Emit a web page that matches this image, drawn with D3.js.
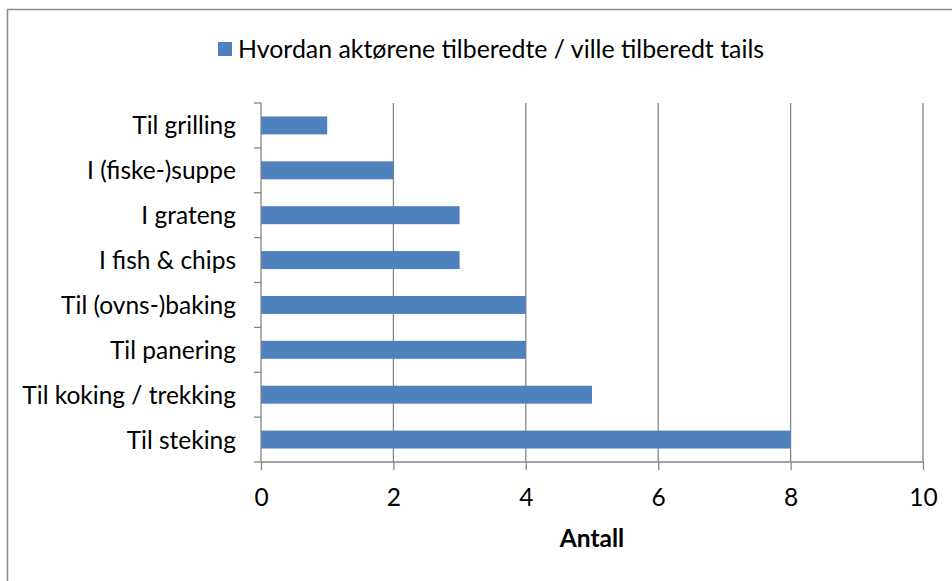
<!DOCTYPE html>
<html>
<head>
<meta charset="utf-8">
<script src="https://cdn.jsdelivr.net/npm/d3@7"></script>
<style>
  html, body { margin: 0; padding: 0; background: #fff; }
  svg { display: block; }
  text { font-family: "Lato", "Open Sans", sans-serif; fill: #000; }
</style>
</head>
<body>
<svg id="chart" width="952" height="581"></svg>
<script>
const categories = ["Til grilling", "I (fiske-)suppe", "I grateng", "I fish & chips",
  "Til (ovns-)baking", "Til panering", "Til koking / trekking", "Til steking"];
const values = [1, 2, 3, 3, 4, 4, 5, 8];
const xTicks = [0, 2, 4, 6, 8, 10];
const seriesName = "Hvordan aktørene tilberedte / ville tilberedt tails";
const xTitle = "Antall";

const svg = d3.select("#chart");
const axisColor = "#868686";
const barColor = "#4F81BD";
const fs = 24.5;

// outer frame
svg.append("rect").attr("x", 7.5).attr("y", 9.5).attr("width", 960).attr("height", 600)
  .attr("fill", "none").attr("stroke", "#8a8a8a").attr("stroke-width", 1.5);

const x = d3.scaleLinear().domain([0, 10]).range([261, 923]);
const y = d3.scaleBand().domain(categories).range([103, 462]).paddingInner(0.6).paddingOuter(0.3);

// gridlines
svg.append("g").selectAll("line").data(xTicks.filter(d => d > 0)).join("line")
  .attr("x1", d => x(d)).attr("x2", d => x(d)).attr("y1", 103).attr("y2", 462)
  .attr("stroke", axisColor).attr("stroke-width", 1.3);

// bars
svg.append("g").selectAll("rect").data(values).join("rect")
  .attr("x", x(0)).attr("y", (d, i) => y(categories[i]))
  .attr("width", d => x(d) - x(0)).attr("height", y.bandwidth())
  .attr("fill", barColor);

// x axis
const xAxis = d3.axisBottom(x).tickValues(xTicks).tickSize(8).tickFormat(d3.format("d"));
const gx = svg.append("g").attr("transform", "translate(0,462)").call(xAxis);
gx.select(".domain").attr("stroke", axisColor).attr("stroke-width", 1.3).attr("d", `M${x(0)},0H${x(10)}`);
gx.selectAll(".tick line").attr("stroke", axisColor).attr("stroke-width", 1.3);
gx.selectAll(".tick text").attr("font-size", fs).attr("font-family", "Lato").attr("fill", "#000")
  .attr("y", 44).attr("dy", null);

// y axis
const step = y.step();
const bounds = d3.range(categories.length + 1).map(i => 103 + i * step);
svg.append("line").attr("x1", x(0)).attr("x2", x(0)).attr("y1", 103).attr("y2", 462)
  .attr("stroke", axisColor).attr("stroke-width", 1.3);
svg.append("g").selectAll("line").data(bounds).join("line")
  .attr("x1", x(0) - 7).attr("x2", x(0)).attr("y1", d => d).attr("y2", d => d)
  .attr("stroke", axisColor).attr("stroke-width", 1.3);
svg.append("g").selectAll("text").data(categories).join("text")
  .attr("x", 236).attr("y", d => y(d) + y.bandwidth() / 2 + 9)
  .attr("text-anchor", "end").attr("font-size", fs).text(d => d);

// x title
svg.append("text").attr("x", (x(0) + x(10)) / 2).attr("y", 547)
  .attr("text-anchor", "middle").attr("font-size", fs).attr("font-weight", "bold").text(xTitle);

// legend
svg.append("rect").attr("x", 218).attr("y", 42).attr("width", 14).attr("height", 14).attr("fill", barColor);
svg.append("text").attr("x", 238).attr("y", 58).attr("font-size", 24.9).text(seriesName);
</script>
</body>
</html>
